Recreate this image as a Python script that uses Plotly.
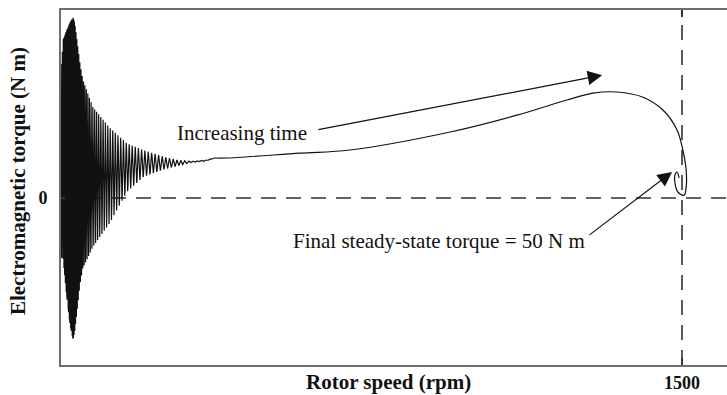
import numpy as np
import plotly.graph_objects as go

# ---- start-up transient: torque oscillation band (speed in rpm, torque in N m)
env_speed = [0, 4.8, 12, 21.7, 29, 33, 38, 46, 53, 77, 118, 159, 198, 222, 251, 280, 312, 348, 372]
env_upper = [300, 395, 415, 440, 452, 440, 400, 335, 295, 227, 175, 137, 120, 112, 102, 95, 92, 95, 100]
env_lower = [-150, -148, -230, -318, -355, -335, -290, -215, -175, -122, -62, 15, 52, 62, 72, 80, 88, 92, 100]

# speed gained per supply cycle (rpm) along the run-up
cycle_speed = [0, 10, 25, 50, 100, 200, 300, 372]
cycle_step = [0.3, 0.6, 1.2, 3.0, 5.5, 8.0, 9.5, 11.0]

# ---- smooth run-up to synchronous speed and settling spiral
traj_speed = [372, 401, 577, 698, 940, 1101, 1222, 1285, 1343, 1406, 1454, 1488, 1502, 1510, 1510, 1505, 1490, 1483, 1483, 1488, 1493]
traj_torque = [100, 100, 112, 120, 165, 207, 245, 262, 265, 252, 220, 170, 120, 70, 27, 7, 15, 37, 57, 65, 50]

sync_speed = 1500
x_ticks = [1500]
y_ticks = [0]

# build the oscillating band trace
grid = np.linspace(0, env_speed[-1], 8000)
step = np.interp(grid, cycle_speed, cycle_step)
cycles = np.concatenate([[0], np.cumsum(np.diff(grid) / step[1:])])
n_cyc = cycles[-1]
phase = np.linspace(0, n_cyc, int(n_cyc * 40))
osc_speed = np.interp(phase, cycles, grid)
up = np.interp(osc_speed, env_speed, env_upper)
lo = np.interp(osc_speed, env_speed, env_lower)
osc_torque = (up + lo) / 2 - (up - lo) / 2 * np.cos(2 * np.pi * phase)
osc_speed = np.concatenate([[0], osc_speed])
osc_torque = np.concatenate([[0], osc_torque])

fig = go.Figure()
fig.add_trace(go.Scatter(x=osc_speed, y=osc_torque, mode="lines",
                         line=dict(color="#111111", width=1.2), hoverinfo="skip"))
fig.add_trace(go.Scatter(x=traj_speed, y=traj_torque, mode="lines",
                         line=dict(color="#111111", width=1.2, shape="spline", smoothing=1.0),
                         hoverinfo="skip"))

dash = "15px,10px"
fig.add_shape(type="line", xref="x", yref="paper", x0=sync_speed, x1=sync_speed, y0=0, y1=1,
              line=dict(color="#333333", width=1.6, dash=dash), layer="below")
fig.add_shape(type="line", xref="paper", yref="y", x0=0, x1=1, y0=0, y1=0,
              line=dict(color="#333333", width=1.6, dash=dash), layer="below")

serif = "Liberation Serif, Times New Roman, serif"

fig.add_annotation(x=437, y=162, text="Increasing time", showarrow=False,
                   font=dict(family=serif, size=21, color="#111"))
fig.add_annotation(x=1307, y=307, ax=618, ay=170, xref="x", yref="y", axref="x", ayref="y",
                   text="", showarrow=True, arrowhead=2, arrowsize=2.4, arrowwidth=1.2,
                   arrowcolor="#111")
fig.add_annotation(x=912, y=-107, text="Final steady-state torque = 50 N m", showarrow=False,
                   font=dict(family=serif, size=21, color="#111"))
fig.add_annotation(x=1476, y=65, ax=1273, ay=-95, xref="x", yref="y", axref="x", ayref="y",
                   text="", showarrow=True, arrowhead=2, arrowsize=2.4, arrowwidth=1.2,
                   arrowcolor="#111")

fig.add_annotation(xref="paper", yref="paper", x=0.491, y=-0.048, text="<b>Rotor speed (rpm)</b>",
                   showarrow=False, yanchor="middle", font=dict(family=serif, size=21, color="#111"))
fig.add_annotation(xref="paper", yref="paper", x=-0.0646, y=0.518,
                   text="<b>Electromagnetic torque (N m)</b>", textangle=-90,
                   showarrow=False, xanchor="center", yanchor="middle",
                   font=dict(family=serif, size=21, color="#111"))

fig.update_layout(
    width=727, height=395,
    margin=dict(l=61, r=0, t=10, b=30),
    paper_bgcolor="white", plot_bgcolor="white",
    showlegend=False,
    xaxis=dict(range=[0, 1608.7], showgrid=False, zeroline=False,
               showline=True, linecolor="#6e6e6e", linewidth=2, mirror="allticks",
               tickvals=x_ticks, ticktext=["<b>1500</b>"], ticks="inside", ticklen=7,
               tickcolor="#333", tickwidth=1.5,
               tickfont=dict(family=serif, size=18, color="#111")),
    yaxis=dict(range=[-417.5, 470], showgrid=False, zeroline=False,
               showline=True, linecolor="#6e6e6e", linewidth=2, mirror=False,
               tickvals=y_ticks, ticktext=["<b>0</b>"], ticks="inside", ticklen=4,
               tickcolor="#333", tickwidth=1.5, ticklabelstandoff=8,
               tickfont=dict(family=serif, size=18, color="#111")),
)

fig.write_html("out.html")
